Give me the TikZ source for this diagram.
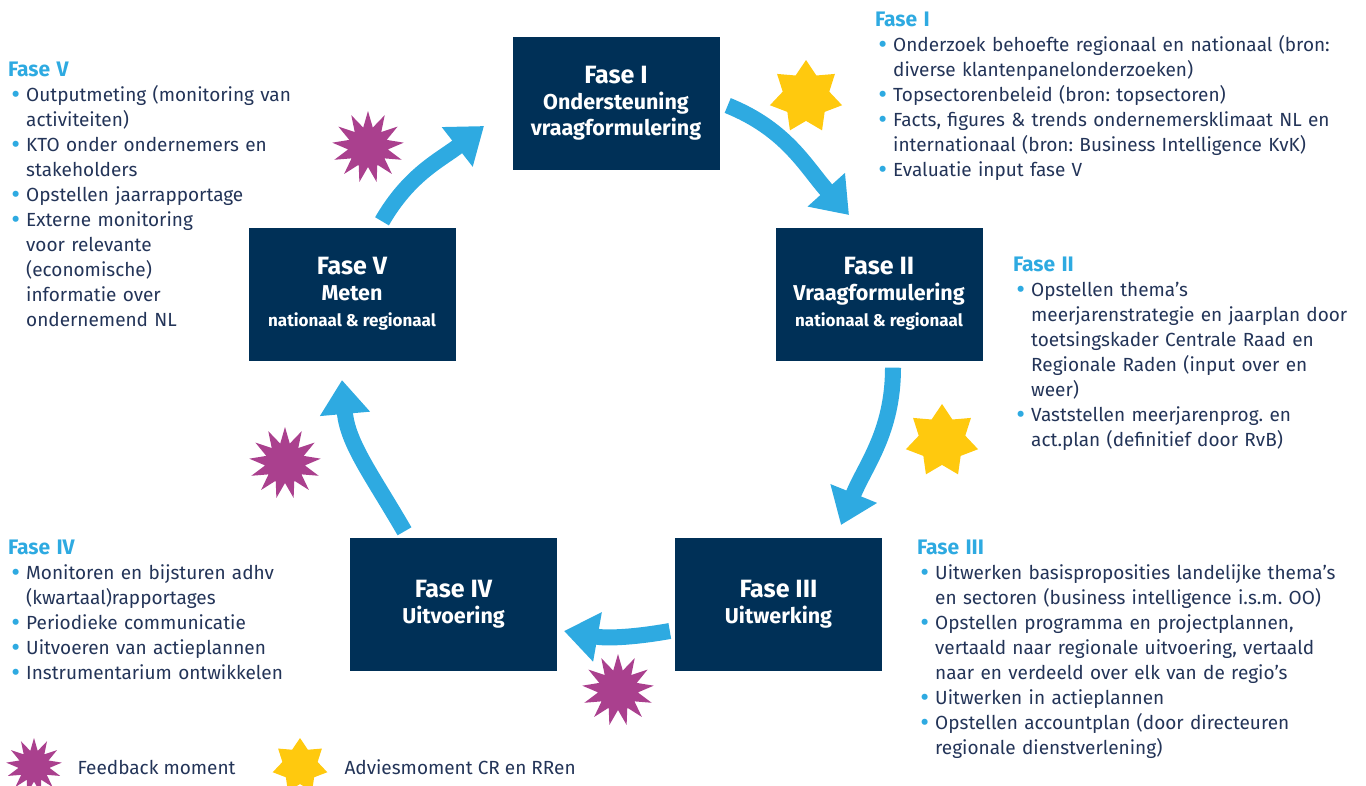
\documentclass[tikz,border=0pt]{standalone}
\usepackage{fontspec}
\setmainfont{Fira Sans}
\usepackage{enumitem}
\usetikzlibrary{arrows.meta,shapes.geometric}

\definecolor{boxblue}{RGB}{0,48,87}
\definecolor{arrowblue}{RGB}{46,170,225}
\definecolor{textnavy}{RGB}{35,52,88}
\definecolor{burstpink}{RGB}{170,64,142}
\definecolor{sunyellow}{RGB}{255,201,14}

\newcommand{\fasehead}[1]{{\fontsize{25}{28}\selectfont #1}}
\newcommand{\faseloc}{{\fontsize{17}{24}\selectfont nationaal \& regionaal}}
\newcommand{\infohead}[1]{{\color{arrowblue}\bfseries\fontsize{21}{25}\selectfont #1}\par}
\newcommand{\infodot}{\raisebox{-2pt}{\color{arrowblue}\fontsize{27}{25}\selectfont\textbullet}}
\setlist[itemize]{nosep,leftmargin=18pt,labelsep=6pt,label=\infodot}
\frenchspacing

\tikzset{
  fase/.style={fill=boxblue,text=white,minimum width=207,minimum height=133,
    align=center,inner sep=0pt,font=\bfseries\fontsize{21.5}{26}\selectfont},
  info/.style={anchor=north west,inner sep=0pt,text width=#1,align=left,
    text=textnavy,font=\fontsize{19}{25}\selectfont},
  flow/.style={draw=arrowblue,line width=16,-{Triangle[length=34,width=48]}},
  sun/.style={star,star points=7,star point ratio=1.55,fill=sunyellow,
    inner sep=0pt,minimum size=74},
  burst/.style={star,star points=13,star point ratio=1.8,fill=burstpink,
    inner sep=0pt,minimum size=72}
}

\begin{document}
\begin{tikzpicture}[x=1pt,y=-1pt]
\useasboundingbox (0,0) rectangle (1366,785);

% fasen
\node[fase] (I) at (616,103.5) {\fasehead{Fase I}\\Ondersteuning\\vraagformulering};
\node[fase] (II) at (879,294) {\fasehead{Fase II}\\Vraagformulering\\\faseloc};
\node[fase] (III) at (778.5,604) {\fasehead{Fase III}\\Uitwerking};
\node[fase] (IV) at (453.5,604) {\fasehead{Fase IV}\\Uitvoering};
\node[fase] (V) at (352,294) {\fasehead{Fase V}\\Meten\\\faseloc};

% pijlen
\coordinate (t12) at (849,215);
\coordinate (t23) at (841,525);
\coordinate (t34) at (564,631);
\coordinate (t45) at (342,380);
\coordinate (t51) at (484,126);
\draw[flow] ([xshift=8,yshift=-2]I.east) to[out=-22,in=132] (t12);
\draw[flow] ([xshift=14,yshift=-7]II.south) to[out=-90,in=68] (t23);
\draw[flow] ([xshift=-5,yshift=-27]III.west) to[out=190,in=-10] (t34);
\draw[flow] ([xshift=-49,yshift=6]IV.north) to[out=120,in=-85] (t45);
\draw[flow] ([xshift=30,yshift=6]V.north) to[out=60,in=218] (t51);

% momenten
\node[sun] (s1) at (806,97) {};
\node[sun] (s2) at (942,441) {};
\node[burst] (b1) at (368,147) {};
\node[burst] (b2) at (285,463) {};
\node[burst] (b3) at (618,690) {};

% toelichting
\node[info=490] (tI) at (875,12) {\infohead{Fase I}
\begin{itemize}
\item Onderzoek behoefte regionaal en nationaal (bron:\\diverse klantenpanelonderzoeken)
\item Topsectorenbeleid (bron: topsectoren)
\item Facts, figures \& trends ondernemersklimaat NL en\\internationaal (bron: Business Intelligence KvK)
\item Evaluatie input fase V
\end{itemize}};
\node[info=350] (tII) at (1013,257) {\infohead{Fase II}
\begin{itemize}
\item Opstellen thema’s\\meerjarenstrategie en jaarplan door\\toetsingskader Centrale Raad en\\Regionale Raden (input over en\\weer)
\item Vaststellen meerjarenprog. en\\act.plan (definitief door RvB)
\end{itemize}};
\node[info=445] (tIII) at (917,540) {\infohead{Fase III}
\begin{itemize}
\item Uitwerken basisproposities landelijke thema’s\\en sectoren (business intelligence i.s.m. OO)
\item Opstellen programma en projectplannen,\\vertaald naar regionale uitvoering, vertaald\\naar en verdeeld over elk van de regio’s
\item Uitwerken in actieplannen
\item Opstellen accountplan (door directeuren\\regionale dienstverlening)
\end{itemize}};
\node[info=320] (tIV) at (8,540) {\infohead{Fase IV}
\begin{itemize}
\item Monitoren en bijsturen adhv\\(kwartaal)rapportages
\item Periodieke communicatie
\item Uitvoeren van actieplannen
\item Instrumentarium ontwikkelen
\end{itemize}};
\node[info=320] (tV) at (8,62) {\infohead{Fase V}
\begin{itemize}
\item Outputmeting (monitoring van\\activiteiten)
\item KTO onder ondernemers en\\stakeholders
\item Opstellen jaarrapportage
\item Externe monitoring\\voor relevante\\(economische)\\informatie over\\ondernemend NL
\end{itemize}};

% legenda
\node[burst,minimum size=56] (lb) at (34,766) {};
\node[anchor=west,text=textnavy,font=\fontsize{19}{25}\selectfont] (lbt) at (74,767) {Feedback moment};
\node[sun,minimum size=56] (ls) at (300,766) {};
\node[anchor=west,text=textnavy,font=\fontsize{19}{25}\selectfont] (lst) at (341,767) {Adviesmoment CR en RRen};
\end{tikzpicture}
\end{document}
